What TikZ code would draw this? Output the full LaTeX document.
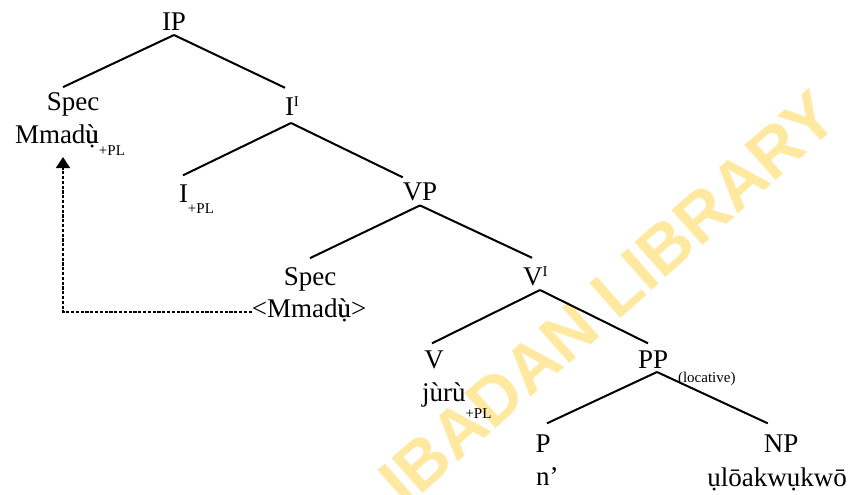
\documentclass[tikz,border=0pt]{standalone}
\usepackage{fontspec}
\setmainfont{Liberation Serif}
\newfontfamily\wmfont{Liberation Sans}
\usetikzlibrary{arrows.meta,calc}
\definecolor{wmyellow}{RGB}{255,232,160}
\newcommand\lowtag[2][6pt]{\raisebox{-#1}{\fontsize{7.5}{9}\selectfont #2}}
\newcommand\bartag[1]{\raisebox{4.2pt}{\fontsize{7.5}{9}\selectfont #1}}
\newcommand\udg{\rlap{ụ}ù}
\tikzset{>=stealth,
    lbl/.style = {inner sep = 0pt, outer sep = 0pt, font = \fontsize{13.5}{16}\selectfont},
    branch/.style = {line width = 1pt},
    movement/.style = {line width = 0.7pt, dash pattern = on 1.6pt off 0.8pt,
        -{Triangle[length = 5.5pt, width = 7pt]}}}

\begin{document}
\begin{tikzpicture}[x = 0.5pt, y = -0.5pt]
    \useasboundingbox (0,0) rectangle (855,494);
    % watermark
    \node[rotate = 41.5, text = wmyellow, font = \wmfont\bfseries\fontsize{34}{38}\selectfont]
        (wm) at (608,298) {IBADAN LIBRARY};
    % tree labels
    \node[lbl, anchor = base] (ip) at (174,30) {IP};
    \node[lbl, anchor = base] (spec) at (73,110) {Spec};
    \node[lbl, anchor = base west] (mmadu) at (15,143) {Mmad\udg\lowtag{+PL}};
    \node[lbl, anchor = base west] (ibar) at (285,115) {I\bartag{I}};
    \node[lbl, anchor = base west] (infl) at (179,202) {I\lowtag[5.5pt]{+PL}};
    \node[lbl, anchor = base] (vp) at (420,200) {VP};
    \node[lbl, anchor = base] (spec2) at (310,285) {Spec};
    \node[lbl, anchor = base] (trace) at (309,317) {<Mmad\udg>};
    \node[lbl, anchor = base west] (vbar) at (523,285) {V\bartag{I}};
    \node[lbl, anchor = base] (v) at (434,368) {V};
    \node[lbl, anchor = base west] (juru) at (422,401) {jùrù\lowtag[8.5pt]{+PL}};
    \node[lbl, anchor = base west] (pp) at (638,368) {PP\hspace{5pt}\lowtag[7pt]{(locative)}};
    \node[lbl, anchor = base] (p) at (543,452) {P};
    \node[lbl, anchor = base west] (n) at (536,485) {n’};
    \node[lbl, anchor = base] (np) at (781,452) {NP};
    \node[lbl, anchor = base] (ulo) at (777,486) {ụlōakwụkwō};
    % branches
    \draw[branch] ([yshift = -2.5pt]ip.south) -- ([xshift = -5pt, yshift = 2.5pt]spec.north);
    \draw[branch] ([yshift = -2.5pt]ip.south) -- ([yshift = 4.5pt]ibar.north west);
    \draw[branch] ([xshift = 3pt, yshift = -4pt]ibar.base west) -- ([xshift = 2pt, yshift = 4.5pt]infl.north west);
    \draw[branch] ([xshift = 3pt, yshift = -4pt]ibar.base west) -- ([yshift = 2.5pt]vp.north west);
    \draw[branch] ([yshift = -2.5pt]vp.south) -- ([yshift = 4.5pt]spec2.north);
    \draw[branch] ([yshift = -2.5pt]vp.south) -- ([xshift = 4.5pt, yshift = 4.5pt]vbar.north west);
    \draw[branch] ([xshift = 8.5pt, yshift = -2.5pt]vbar.base west) -- ([xshift = -1pt, yshift = 3.5pt]v.north);
    \draw[branch] ([xshift = 8.5pt, yshift = -2.5pt]vbar.base west) -- ([xshift = 5pt, yshift = 3.5pt]pp.north west);
    \draw[branch] ([xshift = 9.5pt, yshift = -2pt]pp.base west) -- ([xshift = 2pt, yshift = 5.5pt]p.north);
    \draw[branch] ([xshift = 9.5pt, yshift = -2pt]pp.base west) -- ([xshift = 2pt, yshift = 5.5pt]np.north west);
    % movement of the subject
    \draw[movement] ([yshift = 2.5pt]trace.base west) -| ([xshift = 24pt, yshift = -7pt]mmadu.base west);
\end{tikzpicture}
\end{document}
